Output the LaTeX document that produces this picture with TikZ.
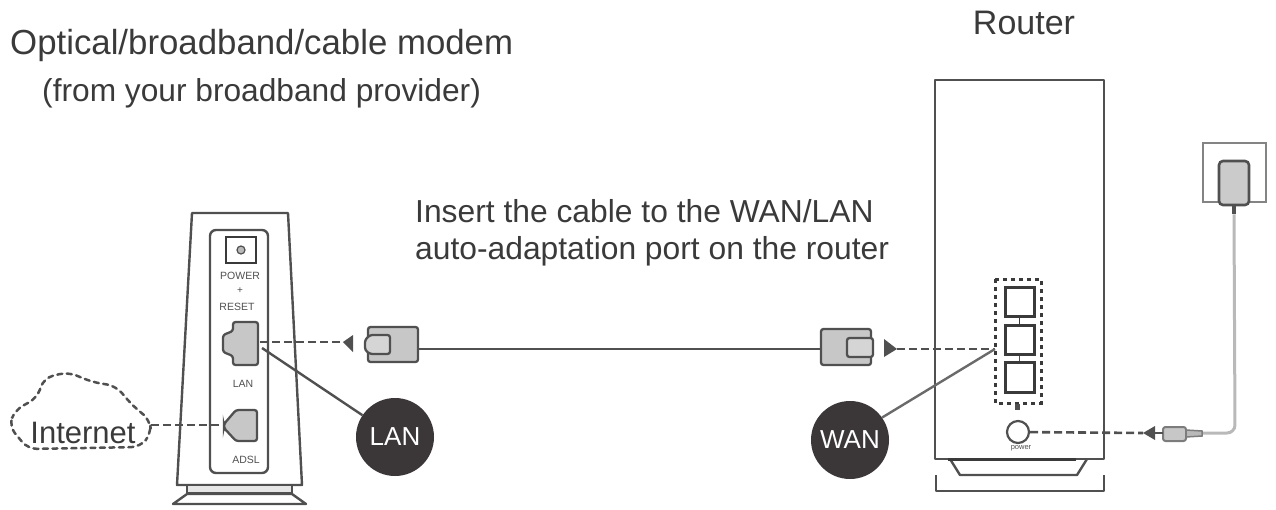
\documentclass[tikz,border=0pt]{standalone}
\usepackage{fontspec}
\setmainfont{Liberation Sans}
\usetikzlibrary{calc}
\definecolor{ink}{HTML}{3A3A3A}
\definecolor{line}{HTML}{505050}
\definecolor{fillg}{HTML}{B9B9B9}
\definecolor{disc}{HTML}{3B3739}
\tikzset{
 x=1pt,y=-1pt,
 dev/.style={draw=line,line width=2.4pt,line join=round},
 boxn/.style={draw=#1,line width=3pt,inner sep=0pt,minimum width=0pt},
 dashc/.style={draw=line,line width=2.6pt,dash pattern=on 8pt off 4pt},
 solidc/.style={draw=line,line width=2.4pt},
 lbl/.style={text=ink,font=\fontsize{#1}{#1}\selectfont,inner sep=0pt},
 tiny lbl/.style={text=line,font=\fontsize{#1}{#1}\selectfont,inner sep=0pt},
 badge/.style={circle,fill=disc,minimum size=78pt,inner sep=0pt,text=white,font=\fontsize{26}{26}\selectfont},
 tip/.style={fill=line,draw=none},
 pluggray/.style={draw=line,fill=fillg!80!white,line width=2.3pt,rounded corners=2.5pt},
}
\begin{document}
\begin{tikzpicture}
\useasboundingbox (0,0) rectangle (1276,509);
% headings
\node[lbl=34.8,anchor=base west] (t1) at (10,54) {Optical/broadband/cable modem};
\node[lbl=31.7,anchor=base west] (t2) at (42,101) {(from your broadband provider)};
\node[lbl=34,anchor=base] (t3) at (1024,34) {Router};
\node[lbl=31.8,anchor=base west] (t4) at (415,222) {Insert the cable to the WAN/LAN};
\node[lbl=31.8,anchor=base west] (t5) at (415,259) {auto-adaptation port on the router};
% modem
\draw[dev] (177,485) -- (192,213) -- (288,213) -- (302,485) -- cycle;
\draw[dev,fill=fillg!35!white] (187,485) rectangle (292,493);
\draw[dev] (187,494) -- (173,504) -- (306,504) -- (292,494) -- cycle;
\draw[dev,rounded corners=6pt,fill=white] (210,230) rectangle (268,473);
\node[draw=ink,line width=2.8pt,minimum width=30pt,minimum height=26pt,inner sep=0pt] (pw) at (241,250) {};
\node[circle,draw=line,fill=fillg,line width=1.2pt,minimum size=8pt,inner sep=0pt] (pwc) at (pw.center) {};
\node[tiny lbl=10.5] (tp) at (240,276) {POWER};
\node[tiny lbl=10] (tplus) at (240,291) {+};
\node[tiny lbl=10.5] (tr) at (237,307) {RESET};
\node[tiny lbl=10.5] (tl) at (243,384) {LAN};
\node[tiny lbl=10.5] (ta) at (246,460) {ADSL};
\draw[pluggray] (233,322) -- (258,322) -- (258,365) -- (233,365) -- (233,356) -- (223,352) -- (223,335) -- (233,331) -- cycle;
\coordinate (lanport) at (260,342);
\coordinate (lanline) at (262,348);
\draw[pluggray] (236,410) -- (257,410) -- (257,441) -- (236,441) -- (224,428) -- (224,424) -- cycle;
\coordinate (adsl) at (223,425);
% cloud
\node[lbl=31] (inet) at (83,433) {Internet};
\draw[draw=line,line width=2.5pt,dash pattern=on 5pt off 4.5pt,line cap=round,rounded corners=9pt]
 (9,426) -- (15,410) -- (37,398) -- (44,378) -- (68,372) -- (92,382) -- (116,386) -- (132,405) -- (150,420) -- (151,434) -- (140,447) -- (28,449) -- cycle;
\coordinate (cloudr) at (151,425);
\draw[dashc] (cloudr) -- (adsl);
% lan plug
\draw[pluggray] (368,327) rectangle (418,362);
\draw[pluggray,fill=fillg!60!white] (390,335) -- (370,335) -- (365,340) -- (365,350) -- (370,354) -- (390,354) -- cycle;
\coordinate (plugl) at (418,349);
\coordinate (tipl) at (343,342);
\draw[tip] (tipl) -- (353,335) -- (353,352) -- cycle;
\draw[dashc] (lanport) -- (tipl);
% badges
\node[badge] (lan) at (395,437) {LAN};
\node[badge] (wan) at (850,440) {WAN};
\draw[solidc] (lanline) -- (lan);
% router
\draw[dev] (935,459) -- (935,80) -- (1104,80) -- (1104,459) -- cycle;
\draw[dev] (950,459) -- (960,475) -- (1077,475) -- (1087,459);
\draw[dev] (936,475) -- (936,491) -- (1104,491) -- (1104,475);
\draw[draw=ink,line width=3pt] (948,459) -- (1076,459);
% ports
\draw[draw=ink,line width=3pt,dash pattern=on 4pt off 4pt] (995,279) rectangle (1041,403);
\node[boxn=ink,minimum width=29pt,minimum height=29pt] (p1) at (1019.5,301.5) {};
\node[boxn=ink,minimum width=29pt,minimum height=29pt] (p2) at (1019.5,340) {};
\node[boxn=ink,minimum width=29pt,minimum height=30pt] (p3) at (1019.5,377.5) {};
\draw[draw=ink,line width=1.5pt] (p1.south) -- (p2.north);
\draw[draw=line,line width=1pt] (p2.south) -- (p3.north);
\coordinate (portedge) at (995,349);
\node[tiny lbl=7] (ic) at (1017,407) {\rule{5pt}{6pt}};
\node[circle,draw=line,line width=2.2pt,minimum size=22pt,inner sep=0pt] (btn) at (1018,432) {};
\node[tiny lbl=7.5] (tpw) at (1021,448) {power};
% wan plug
\draw[pluggray] (821,329) rectangle (871,365);
\draw[pluggray,fill=fillg!60!white] (847,338) -- (873,338) -- (873,357) -- (847,357) -- cycle;
\coordinate (plugr) at (821,349);
\coordinate (tipr) at (897,349);
\draw[tip] (tipr) -- (884,339) -- (884,357) -- cycle;
\draw[dashc] (tipr) -- (portedge);
\draw[solidc] (plugl) -- (plugr);
\draw[solidc,draw=line!85!white] (wan.35) -- (portedge);
% power adapter
\draw[draw=line!70!white,line width=2.2pt] (1219,202) -- (1203,202) -- (1203,143) -- (1266,143) -- (1266,202) -- (1249,202);
\node[draw=line,fill=fillg!75!white,line width=2.6pt,rounded corners=4pt,minimum width=30pt,minimum height=44pt,inner sep=0pt] (adp) at (1234,183) {};
\draw[draw=line,line width=3.5pt] (adp.south) -- ++(0,8);
\coordinate (cordb) at (1202,433);
\draw[draw=fillg,line width=3pt,rounded corners=8pt] ($(adp.south)+(0,8)$) -- (1235,433) -- (cordb);
\draw[pluggray,draw=line!75!white,line width=2pt] (1163,427) rectangle (1186,441);
\draw[fill=fillg,draw=line!75!white,line width=1.5pt] (1186,430) -- (1202,431) -- (1202,436) -- (1186,437) -- cycle;
\coordinate (tipc) at (1143,433);
\draw[tip] (tipc) -- (1155,426) -- (1155,440) -- cycle;
\draw[solidc] (1155,433) -- (1163,433);
\draw[dashc] (btn) -- (tipc);
\end{tikzpicture}
\end{document}
